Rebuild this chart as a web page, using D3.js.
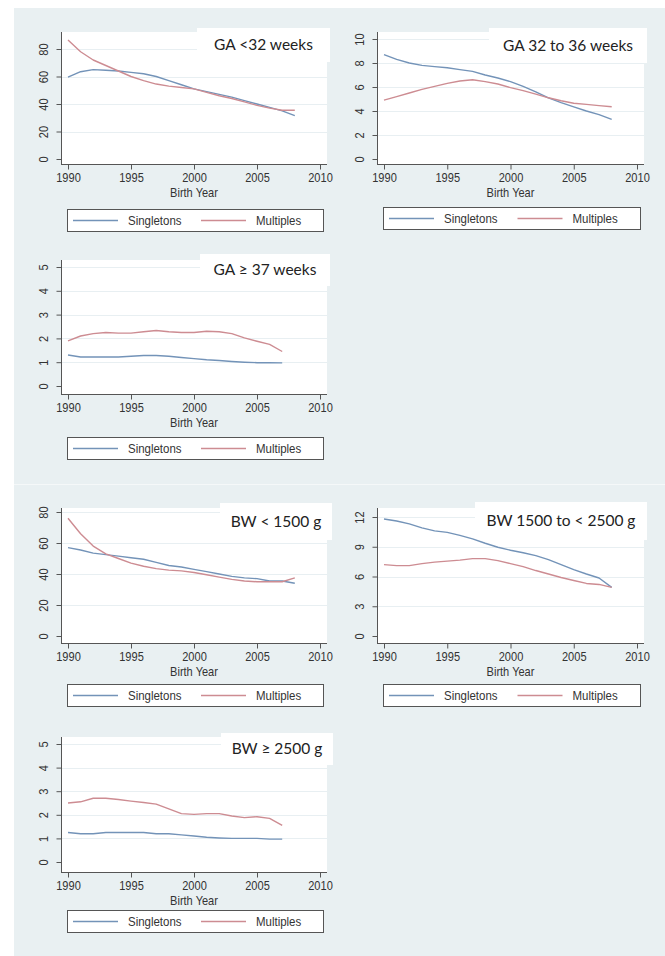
<!DOCTYPE html>
<html>
<head>
<meta charset="utf-8">
<script src="https://cdn.jsdelivr.net/npm/d3@7"></script>
<style>
  html, body { margin: 0; padding: 0; background: #fff; }
  svg { display: block; }
  .tick-label { font-family: "Liberation Sans", Arial, sans-serif; font-size: 13px; fill: #333; }
  .legend-label { font-family: "Liberation Sans", Arial, sans-serif; font-size: 13.5px; fill: #333; }
  .panel-title { font-family: Lato, "Open Sans", sans-serif; font-size: 15.5px; fill: #222; }
</style>
</head>
<body>
<div id="chart"></div>
<script>
// Birth years (x categories)
const years08 = [1990, 1991, 1992, 1993, 1994, 1995, 1996, 1997, 1998, 1999,
                 2000, 2001, 2002, 2003, 2004, 2005, 2006, 2007, 2008];
const years07 = [1990, 1991, 1992, 1993, 1994, 1995, 1996, 1997, 1998, 1999,
                 2000, 2001, 2002, 2003, 2004, 2005, 2006, 2007];
const xTicks = [1990, 1995, 2000, 2005, 2010];

// GA < 32 weeks
const gaLt32Single = [59.5, 63.5, 65, 64.5, 64, 63, 62, 60, 57, 54, 51, 49, 47, 45, 42.5, 40, 37.5, 35, 31.5];
const gaLt32Multi  = [86.5, 78, 72, 68, 64, 60, 57, 54.5, 53, 52, 51, 48.5, 46, 44, 41.5, 39, 37, 35.5, 35.5];
const gaLt32Ticks  = [0, 20, 40, 60, 80];

// GA 32 to 36 weeks
const ga3236Single = [8.7, 8.3, 8.0, 7.8, 7.7, 7.6, 7.45, 7.3, 7.0, 6.75, 6.45, 6.05, 5.6, 5.1, 4.7, 4.35, 4.0, 3.7, 3.3];
const ga3236Multi  = [4.9, 5.2, 5.5, 5.8, 6.05, 6.3, 6.5, 6.6, 6.45, 6.25, 5.95, 5.7, 5.4, 5.1, 4.85, 4.65, 4.55, 4.45, 4.35];
const ga3236Ticks  = [0, 2, 4, 6, 8, 10];

// GA >= 37 weeks
const gaGe37Single = [1.3, 1.22, 1.22, 1.22, 1.22, 1.25, 1.28, 1.28, 1.25, 1.2, 1.15, 1.1, 1.07, 1.03, 1.0, 0.98, 0.98, 0.97];
const gaGe37Multi  = [1.9, 2.1, 2.2, 2.25, 2.22, 2.22, 2.28, 2.33, 2.28, 2.25, 2.25, 2.3, 2.28, 2.2, 2.02, 1.88, 1.75, 1.45];
const gaGe37Ticks  = [0, 1, 2, 3, 4, 5];

// BW < 1500 g
const bwLt1500Single = [57, 55.5, 53.5, 52.5, 51.5, 50.5, 49.5, 47.5, 45.5, 44.5, 43, 41.5, 40, 38.5, 37.5, 37, 35.5, 35.5, 34];
const bwLt1500Multi  = [76, 66, 58, 53, 50, 47, 45, 43.5, 42.5, 42, 41, 39.5, 38, 36.5, 35.5, 35, 35, 35, 37.5];
const bwLt1500Ticks  = [0, 20, 40, 60, 80];

// BW 1500 to < 2500 g
const bw1525Single = [11.8, 11.6, 11.3, 10.9, 10.6, 10.45, 10.15, 9.8, 9.35, 8.95, 8.65, 8.4, 8.1, 7.7, 7.2, 6.7, 6.25, 5.85, 4.9];
const bw1525Multi  = [7.2, 7.1, 7.1, 7.3, 7.45, 7.55, 7.65, 7.8, 7.8, 7.6, 7.3, 7.0, 6.6, 6.25, 5.9, 5.6, 5.3, 5.2, 4.9];
const bw1525Ticks  = [0, 3, 6, 9, 12];

// BW >= 2500 g
const bwGe2500Single = [1.25, 1.2, 1.2, 1.25, 1.25, 1.25, 1.25, 1.2, 1.2, 1.15, 1.1, 1.05, 1.02, 1.0, 1.0, 1.0, 0.97, 0.97];
const bwGe2500Multi  = [2.5, 2.55, 2.7, 2.7, 2.65, 2.58, 2.52, 2.45, 2.25, 2.05, 2.02, 2.05, 2.05, 1.95, 1.88, 1.92, 1.85, 1.55];
const bwGe2500Ticks  = [0, 1, 2, 3, 4, 5];

const seriesNames = ["Singletons", "Multiples"];
const seriesColors = ["#7393b8", "#cd8c92"];

const W = 665, H = 956;
const squeeze = "scale(0.85,1)"; // the source text is horizontally condensed

// panel layout: plot region, y pixel of zero / top tick, title box, legend top
const panels = [
  { title: "GA <32 weeks", years: years08, single: gaLt32Single, multi: gaLt32Multi, ticks: gaLt32Ticks,
    left: 61, right: 327, top: 32, bottom: 164, zeroY: 159, maxY: 49,
    box: [197, 28, 330, 62], legendTop: 209 },
  { title: "GA 32 to 36 weeks", years: years08, single: ga3236Single, multi: ga3236Multi, ticks: ga3236Ticks,
    left: 377, right: 644, top: 32, bottom: 164, zeroY: 159, maxY: 39,
    box: [489, 28, 647, 63], legendTop: 207 },
  { title: "GA \u2265 37 weeks", years: years07, single: gaGe37Single, multi: gaGe37Multi, ticks: gaGe37Ticks,
    left: 61, right: 327, top: 260, bottom: 394, zeroY: 386, maxY: 267,
    box: [200, 254, 330, 286], legendTop: 437 },
  { title: "BW < 1500 g", years: years08, single: bwLt1500Single, multi: bwLt1500Multi, ticks: bwLt1500Ticks,
    left: 61, right: 327, top: 508, bottom: 643, zeroY: 636, maxY: 512,
    box: [220, 503, 332, 540], legendTop: 684 },
  { title: "BW 1500 to < 2500 g", years: years08, single: bw1525Single, multi: bw1525Multi, ticks: bw1525Ticks,
    left: 377, right: 644, top: 508, bottom: 643, zeroY: 636, maxY: 517,
    box: [475, 502, 647, 540], legendTop: 684 },
  { title: "BW \u2265 2500 g", years: years07, single: bwGe2500Single, multi: bwGe2500Multi, ticks: bwGe2500Ticks,
    left: 61, right: 327, top: 737, bottom: 872, zeroY: 862, maxY: 744,
    box: [221, 733, 333, 765], legendTop: 910 }
];

const svg = d3.select("#chart").append("svg")
  .attr("width", W)
  .attr("height", H);

// graph region background
svg.append("rect")
  .attr("x", 14).attr("y", 8)
  .attr("width", W - 14).attr("height", H - 8)
  .attr("fill", "#e9f0f2");

// faint seam between the two stacked figures
svg.append("line")
  .attr("x1", 14).attr("x2", W)
  .attr("y1", 484.5).attr("y2", 484.5)
  .attr("stroke", "#f5f8f9")
  .attr("stroke-width", 1);

panels.forEach(p => {
  const g = svg.append("g");

  const x = d3.scaleLinear().domain([1990, 2010]).range([p.left + 7, p.right - 7]);
  const y = d3.scaleLinear().domain([0, p.ticks[p.ticks.length - 1]]).range([p.zeroY, p.maxY]);

  // plot region
  g.append("rect")
    .attr("x", p.left).attr("y", p.top)
    .attr("width", p.right - p.left).attr("height", p.bottom - p.top)
    .attr("fill", "#fff");

  // gridlines
  g.selectAll("line.grid")
    .data(p.ticks.filter(t => t > 0))
    .enter().append("line")
    .attr("class", "grid")
    .attr("x1", p.left + 1).attr("x2", p.right)
    .attr("y1", d => Math.round(y(d)) + 0.5)
    .attr("y2", d => Math.round(y(d)) + 0.5)
    .attr("stroke", "#e8eff2")
    .attr("stroke-width", 1);

  // title box
  g.append("rect")
    .attr("x", p.box[0]).attr("y", p.box[1])
    .attr("width", p.box[2] - p.box[0]).attr("height", p.box[3] - p.box[1])
    .attr("fill", "#fff");
  g.append("text")
    .attr("class", "panel-title")
    .attr("x", (p.box[0] + p.box[2]) / 2)
    .attr("y", (p.box[1] + p.box[3]) / 2 + 5)
    .attr("text-anchor", "middle")
    .text(p.title);

  // y axis
  const yAxis = d3.axisLeft(y).tickValues(p.ticks).tickSize(5).tickPadding(0).tickFormat(d3.format("d"));
  const ya = g.append("g")
    .attr("transform", `translate(${p.left + 0.5},0)`)
    .call(yAxis);
  ya.select(".domain").attr("d", `M0,${p.top}V${p.bottom}`).attr("stroke", "#555");
  ya.selectAll(".tick line").attr("stroke", "#555");
  ya.selectAll(".tick text")
    .attr("class", "tick-label")
    .attr("x", null).attr("dy", null)
    .attr("text-anchor", "middle")
    .attr("transform", "translate(-13.5,0) rotate(-90) " + squeeze)
    .attr("y", 0);

  // x axis
  const xAxis = d3.axisBottom(x).tickValues(xTicks).tickSize(5).tickPadding(3).tickFormat(d3.format("d"));
  const xa = g.append("g")
    .attr("transform", `translate(0,${p.bottom + 0.5})`)
    .call(xAxis);
  xa.select(".domain").attr("d", `M${p.left},0H${p.right}`).attr("stroke", "#555");
  xa.selectAll(".tick line").attr("stroke", "#555");
  xa.selectAll(".tick text").attr("class", "tick-label").attr("dy", "0.71em")
    .attr("transform", squeeze);

  g.append("g")
    .attr("transform", `translate(${(x(1990) + x(2010)) / 2},${p.bottom + 33})`)
    .append("text")
    .attr("class", "tick-label")
    .attr("text-anchor", "middle")
    .attr("transform", squeeze)
    .text("Birth Year");

  // series lines
  const line = d3.line()
    .x((d, i) => x(p.years[i]))
    .y(d => y(d));
  [p.single, p.multi].forEach((vals, k) => {
    g.append("path")
      .datum(vals)
      .attr("d", line)
      .attr("fill", "none")
      .attr("stroke", seriesColors[k])
      .attr("stroke-width", 1.4)
      .attr("stroke-linejoin", "round");
  });

  // legend
  const lx = p.left + 6, lw = p.right - p.left - 10, lh = 22;
  const lg = g.append("g").attr("transform", `translate(${lx},${p.legendTop})`);
  lg.append("rect")
    .attr("x", 0.5).attr("y", 0.5)
    .attr("width", lw).attr("height", lh)
    .attr("fill", "#fff")
    .attr("stroke", "#555");
  const colW = (lw - 12) / 2 + 6;
  seriesNames.forEach((name, k) => {
    const cx = 6 + k * colW;
    lg.append("line")
      .attr("x1", cx).attr("x2", cx + 45)
      .attr("y1", lh / 2 + 0.5).attr("y2", lh / 2 + 0.5)
      .attr("stroke", seriesColors[k])
      .attr("stroke-width", 1.4);
    lg.append("g")
      .attr("transform", `translate(${cx + 55},${lh / 2 + 5})`)
      .append("text")
      .attr("class", "legend-label")
      .attr("transform", squeeze)
      .text(name);
  });
});
</script>
</body>
</html>
